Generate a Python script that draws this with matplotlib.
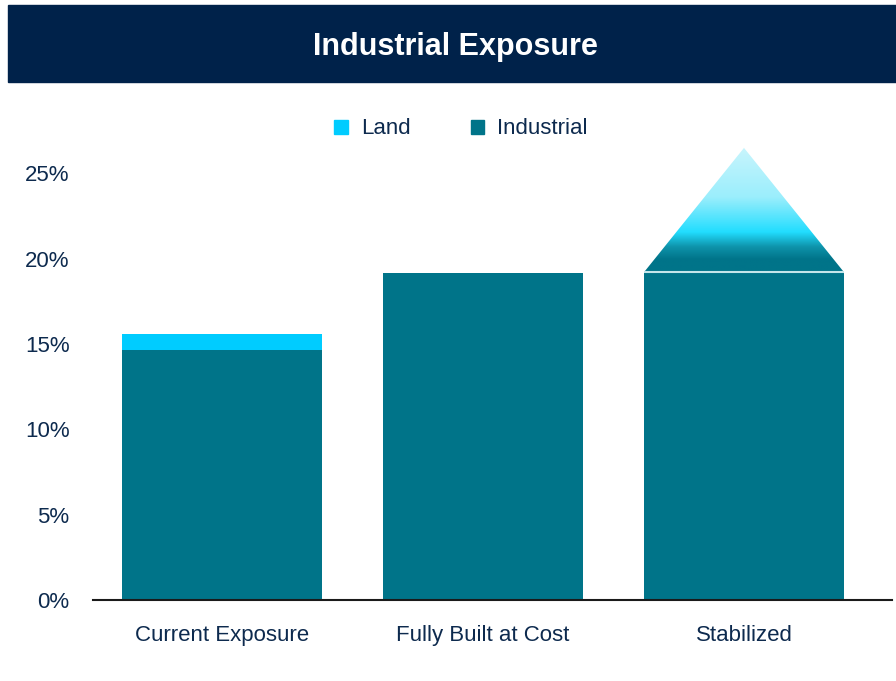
import numpy as np
import matplotlib
matplotlib.use("Agg")
import matplotlib.pyplot as plt
from matplotlib.patches import Patch, Polygon, Rectangle
from matplotlib.colors import LinearSegmentedColormap
from matplotlib.ticker import FuncFormatter

plt.rcParams['font.family'] = ['Liberation Sans', 'DejaVu Sans']

categories = ["Current Exposure", "Fully Built at Cost", "Stabilized"]
industrial = [14.65, 19.15, 19.2]
land = [0.93, 0.0, 0.0]
upside = [0.0, 0.0, 7.28]
yticks = [0, 5, 10, 15, 20, 25]

navy = '#00224A'
text_col = '#0D2A4E'
teal = '#007489'
cyan = '#00CCFF'

fig = plt.figure(figsize=(8.96, 6.81), dpi=100)

# header band
fig.patches.append(Rectangle((8 / 896, 1 - 82 / 681), 888 / 896, 77 / 681,
                             transform=fig.transFigure, color=navy, zorder=0))
fig.text(455 / 896, 1 - 47 / 681, "Industrial Exposure", color='white',
         fontsize=22, fontweight='bold', ha='center', va='center')

ax = fig.add_axes([93 / 896, 81 / 681, 799 / 896, 461 / 681])
x = np.arange(len(categories))
width = 0.766

ax.bar(x, industrial, width, color=teal, label='Industrial', zorder=2)
ax.bar(x, land, width, bottom=industrial, color=cyan, label='Land', zorder=2)

# gradient roof over bars with projected upside
grad = LinearSegmentedColormap.from_list('roof', [
    (0.0, '#007489'), (0.1, '#007489'), (0.2, '#0E93AA'),
    (0.32, '#22DDFF'), (0.6, '#9BEEFC'), (1.0, '#C8F5FD')])
for xi, base, up in zip(x, industrial, upside):
    if up <= 0:
        continue
    left, right = xi - width / 2, xi + width / 2
    tri = Polygon([[left, base], [right, base], [xi, base + up]],
                  closed=True, facecolor='none', edgecolor='none')
    ax.add_patch(tri)
    img = ax.imshow(np.linspace(0, 1, 256).reshape(-1, 1), cmap=grad,
                    origin='lower', aspect='auto',
                    extent=[left, right, base, base + up], zorder=3)
    img.set_clip_path(tri)
    ax.plot([left, right], [base, base], color='#C4E6EB', lw=1.5,
            solid_capstyle='butt', zorder=4)

ax.set_xlim(-0.494, 2.567)
ax.set_ylim(0, 27)
ax.set_xticks(x)
ax.set_xticklabels(categories)
ax.set_yticks(yticks)
ax.yaxis.set_major_formatter(FuncFormatter(lambda v, p: f"{v:.0f}%"))
ax.tick_params(axis='both', length=0, labelsize=16, labelcolor=text_col)
ax.tick_params(axis='y', pad=17)
ax.tick_params(axis='x', pad=18)
for s in ['top', 'right', 'left']:
    ax.spines[s].set_visible(False)
ax.spines['bottom'].set_color('#1A1A1A')
ax.spines['bottom'].set_linewidth(1.5)
ax.spines['bottom'].set_zorder(5)

handles = [Patch(color=cyan, label='Land'), Patch(color=teal, label='Industrial')]
fig.legend(handles=handles, loc='center', bbox_to_anchor=(461 / 896, 1 - 129 / 681),
           ncol=2, frameon=False, fontsize=16, handlelength=0.6, handleheight=0.6,
           handletextpad=0.6, columnspacing=2.7, labelcolor=text_col)

fig.savefig('out.png', dpi=100)
